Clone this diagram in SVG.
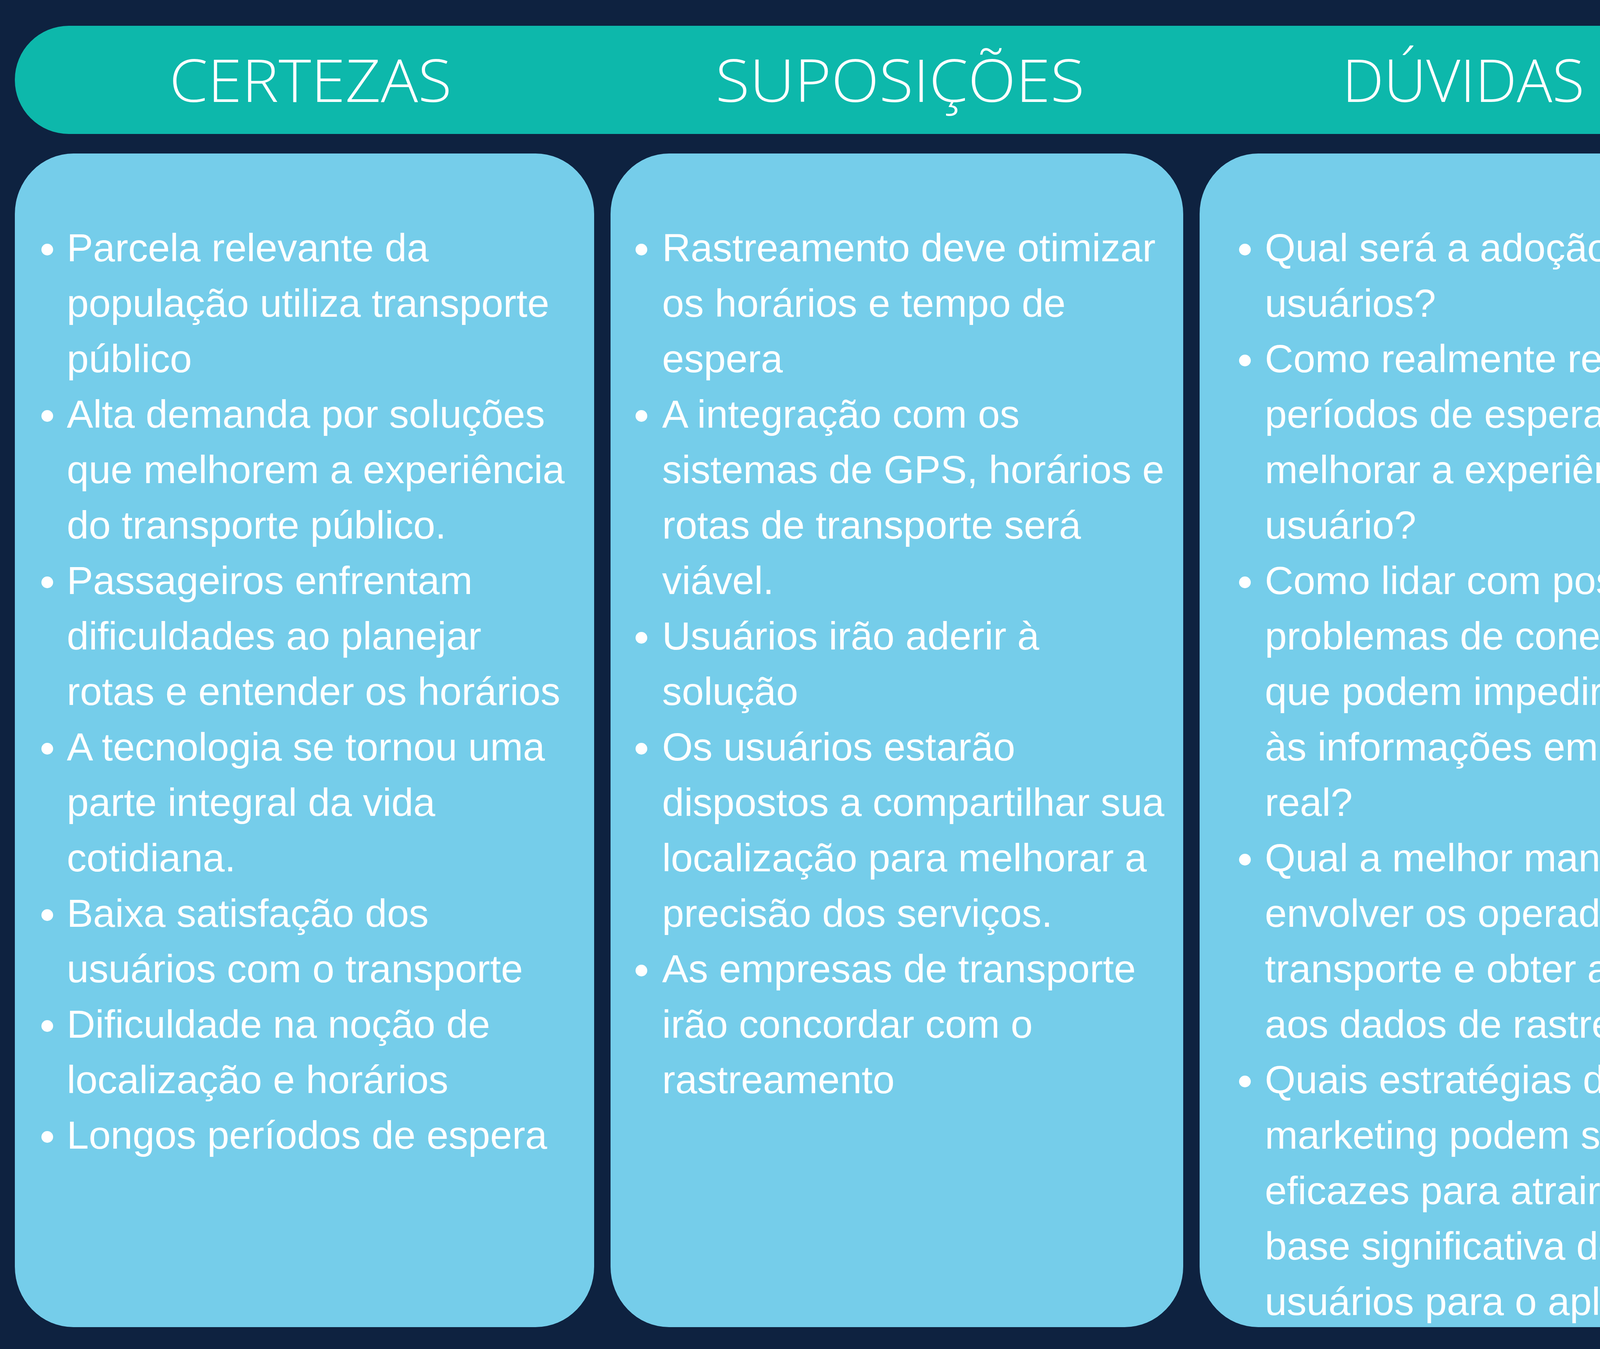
<svg xmlns="http://www.w3.org/2000/svg" width="4607" height="3454" viewBox="0 0 4607 3454">
<style>
.hdr{font-family:"Open Sans","Lato","Liberation Sans",sans-serif;font-weight:300;font-size:152px;fill:#ffffff;text-anchor:middle}
.col{fill:#75cdea}
.body{font-family:"Liberation Sans",Arial,sans-serif;font-size:101px;fill:#ffffff}
.dot{fill:#ffffff}
</style>
<rect x="0" y="0" width="4607" height="3454" fill="#0e2240"/>
<g id="header">
<rect x="38" y="66" width="4490" height="277" rx="138" ry="138" fill="#0db8ab"/>
<text class="hdr" x="795" y="261" textLength="723" lengthAdjust="spacingAndGlyphs">CERTEZAS</text>
<text class="hdr" x="2304" y="261" textLength="945" lengthAdjust="spacingAndGlyphs">SUPOSIÇÕES</text>
<text class="hdr" x="3746" y="261" textLength="620" lengthAdjust="spacingAndGlyphs">DÚVIDAS</text>
</g>
<g id="certezas">
<rect class="col" x="38" y="393" width="1483" height="3005" rx="150" ry="155"/>
<circle class="dot" cx="121" cy="639" r="15"/>
<circle class="dot" cx="121" cy="1065" r="15"/>
<circle class="dot" cx="121" cy="1491" r="15"/>
<circle class="dot" cx="121" cy="1917" r="15"/>
<circle class="dot" cx="121" cy="2343" r="15"/>
<circle class="dot" cx="121" cy="2627" r="15"/>
<circle class="dot" cx="121" cy="2911" r="15"/>
<text class="body" x="171" y="669">Parcela relevante da</text>
<text class="body" x="171" y="811">população utiliza transporte</text>
<text class="body" x="171" y="953">público</text>
<text class="body" x="171" y="1095">Alta demanda por soluções</text>
<text class="body" x="171" y="1237">que melhorem a experiência</text>
<text class="body" x="171" y="1379">do transporte público.</text>
<text class="body" x="171" y="1521">Passageiros enfrentam</text>
<text class="body" x="171" y="1663">dificuldades ao planejar</text>
<text class="body" x="171" y="1805">rotas e entender os horários</text>
<text class="body" x="171" y="1947">A tecnologia se tornou uma</text>
<text class="body" x="171" y="2089">parte integral da vida</text>
<text class="body" x="171" y="2231">cotidiana.</text>
<text class="body" x="171" y="2373">Baixa satisfação dos</text>
<text class="body" x="171" y="2515">usuários com o transporte</text>
<text class="body" x="171" y="2657">Dificuldade na noção de</text>
<text class="body" x="171" y="2799">localização e horários</text>
<text class="body" x="171" y="2941">Longos períodos de espera</text>
</g>
<g id="suposicoes">
<rect class="col" x="1563" y="393" width="1466" height="3005" rx="150" ry="155"/>
<circle class="dot" cx="1642" cy="639" r="15"/>
<circle class="dot" cx="1642" cy="1065" r="15"/>
<circle class="dot" cx="1642" cy="1633" r="15"/>
<circle class="dot" cx="1642" cy="1917" r="15"/>
<circle class="dot" cx="1642" cy="2485" r="15"/>
<text class="body" x="1695" y="669">Rastreamento deve otimizar</text>
<text class="body" x="1695" y="811">os horários e tempo de</text>
<text class="body" x="1695" y="953">espera</text>
<text class="body" x="1695" y="1095">A integração com os</text>
<text class="body" x="1695" y="1237">sistemas de GPS, horários e</text>
<text class="body" x="1695" y="1379">rotas de transporte será</text>
<text class="body" x="1695" y="1521">viável.</text>
<text class="body" x="1695" y="1663">Usuários irão aderir à</text>
<text class="body" x="1695" y="1805">solução</text>
<text class="body" x="1695" y="1947">Os usuários estarão</text>
<text class="body" x="1695" y="2089">dispostos a compartilhar sua</text>
<text class="body" x="1695" y="2231">localização para melhorar a</text>
<text class="body" x="1695" y="2373">precisão dos serviços.</text>
<text class="body" x="1695" y="2515">As empresas de transporte</text>
<text class="body" x="1695" y="2657">irão concordar com o</text>
<text class="body" x="1695" y="2799">rastreamento</text>
</g>
<g id="duvidas">
<rect class="col" x="3071" y="393" width="1457" height="3005" rx="150" ry="155"/>
<circle class="dot" cx="3187" cy="639" r="15"/>
<circle class="dot" cx="3187" cy="923" r="15"/>
<circle class="dot" cx="3187" cy="1491" r="15"/>
<circle class="dot" cx="3187" cy="2201" r="15"/>
<circle class="dot" cx="3187" cy="2769" r="15"/>
<text class="body" x="3238" y="669">Qual será a adoção real dos</text>
<text class="body" x="3238" y="811">usuários?</text>
<text class="body" x="3238" y="953">Como realmente reduzir os</text>
<text class="body" x="3238" y="1095">períodos de espera e</text>
<text class="body" x="3238" y="1237">melhorar a experiência do</text>
<text class="body" x="3238" y="1379">usuário?</text>
<text class="body" x="3238" y="1521">Como lidar com possíveis</text>
<text class="body" x="3238" y="1663">problemas de conectividade</text>
<text class="body" x="3238" y="1805">que podem impedir o acesso</text>
<text class="body" x="3238" y="1947">às informações em tempo</text>
<text class="body" x="3238" y="2089">real?</text>
<text class="body" x="3238" y="2231">Qual a melhor maneira de</text>
<text class="body" x="3238" y="2373">envolver os operadores de</text>
<text class="body" x="3238" y="2515">transporte e obter acesso</text>
<text class="body" x="3238" y="2657">aos dados de rastreamento?</text>
<text class="body" x="3238" y="2799">Quais estratégias de</text>
<text class="body" x="3238" y="2941">marketing podem ser</text>
<text class="body" x="3238" y="3083">eficazes para atrair uma</text>
<text class="body" x="3238" y="3225">base significativa de</text>
<text class="body" x="3238" y="3367">usuários para o aplicativo?</text>
</g>
</svg>
